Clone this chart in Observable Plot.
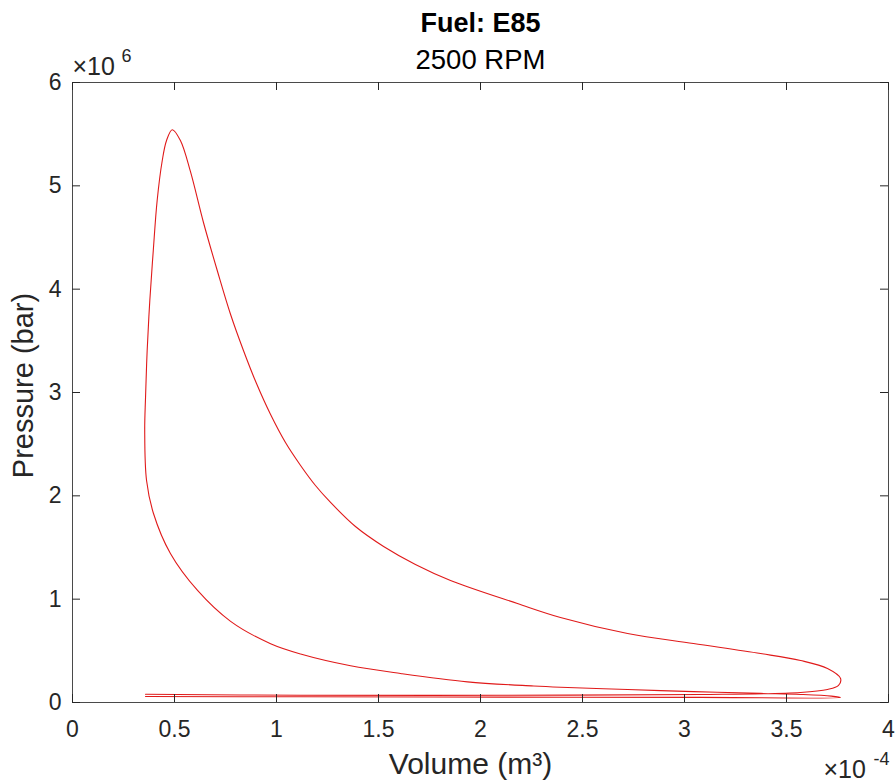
<!DOCTYPE html>
<html><head><meta charset="utf-8">
<script src="https://cdn.jsdelivr.net/npm/d3@7"></script>
<script src="https://cdn.jsdelivr.net/npm/@observablehq/plot@0.6"></script>
<style>body{margin:0;background:#fff}</style>
</head><body><div id="chart"></div>
<script>
// Volume in units of 1e-4 m³, pressure in units of 1e6
const volumeE4 = [
  0.358, 1.118, 2.098, 3.078, 3.765,
  3.72, 3.569, 3.373, 3.044, 2.721, 2.392, 2.260, 1.936, 1.608, 1.363, 1.118, 0.971, 0.775, 0.613, 0.480, 0.397, 0.363, 0.354, 0.358, 0.366, 0.379, 0.396, 0.415, 0.440, 0.461, 0.489,
  0.529, 0.578, 0.642, 0.711, 0.775, 0.838, 0.902, 0.971, 1.044, 1.118, 1.191, 1.265, 1.387, 1.525, 1.681, 1.853, 2.181, 2.392, 2.721, 3.044, 3.373, 3.569, 3.701, 3.765, 3.755, 3.701, 3.569,
  3.078, 2.098, 1.118, 0.358
];
const pressureE6 = [
  0.058, 0.055, 0.052, 0.050, 0.048,
  0.062, 0.078, 0.088, 0.105, 0.126, 0.148, 0.160, 0.200, 0.281, 0.356, 0.470, 0.569, 0.785, 1.084, 1.442, 1.829, 2.148, 2.632, 2.952, 3.407, 3.890, 4.374, 4.858, 5.245, 5.439, 5.543,
  5.439, 5.139, 4.645, 4.171, 3.755, 3.407, 3.087, 2.787, 2.516, 2.294, 2.100, 1.936, 1.703, 1.510, 1.336, 1.181, 0.958, 0.823, 0.668, 0.571, 0.474, 0.406, 0.329, 0.232, 0.165, 0.126, 0.097,
  0.077, 0.070, 0.070, 0.080
];
const xTicks = [0, 0.5, 1, 1.5, 2, 2.5, 3, 3.5, 4];
const yTicks = [0, 1, 2, 3, 4, 5, 6];
const xTickLabels = ["0", "0.5", "1", "1.5", "2", "2.5", "3", "3.5", "4"];
const yTickLabels = ["0", "1", "2", "3", "4", "5", "6"];
const titleText = "Fuel: E85";
const subtitleText = "2500 RPM";
const xLabelText = "Volume (m³)";
const yLabelText = "Pressure (bar)";

const data = volumeE4.map((v, i) => ({v, p: pressureE6[i]}));
const W = 896, H = 782, mL = 72, mR = 8, mT = 82, mB = 80;
const fh = H - mT - mB, fw = W - mL - mR;
const axisColor = "#262626";
const frameColor = "#4a4a4a";
const font = "'Liberation Sans', Arial, Helvetica, sans-serif";

const chart = Plot.plot({
  width: W, height: H,
  marginLeft: mL, marginRight: mR, marginTop: mT, marginBottom: mB,
  x: {domain: [0, 4]},
  y: {domain: [0, 6]},
  style: {fontFamily: font, background: "#fff", color: axisColor, overflow: "visible"},
  marks: [
    Plot.line(data, {x: "v", y: "p", stroke: "#e01a1a", strokeWidth: 1.1, curve: "catmull-rom"}),
    Plot.frame({stroke: frameColor, strokeWidth: 1}),
    Plot.tickX(xTicks, {x: d => d, insetTop: fh - 8, stroke: axisColor}),
    Plot.tickX(xTicks, {x: d => d, insetBottom: fh - 8, stroke: axisColor}),
    Plot.tickY(yTicks, {y: d => d, insetRight: fw - 8, stroke: axisColor}),
    Plot.tickY(yTicks, {y: d => d, insetLeft: fw - 8, stroke: axisColor}),
    Plot.axisX(xTicks, {tickSize: 0, tickPadding: 18, fontSize: 23, label: null, tickFormat: (d, i) => xTickLabels[i], fill: axisColor}),
    Plot.axisY(yTicks, {tickSize: 0, tickPadding: 11, fontSize: 23, label: null, tickFormat: (d, i) => yTickLabels[i], fill: axisColor}),
    Plot.text([titleText], {frameAnchor: "top", dy: -59, lineAnchor: "middle", textAnchor: "middle", fontWeight: "bold", fontSize: 27, fill: "#000"}),
    Plot.text([subtitleText], {frameAnchor: "top", dy: -22, lineAnchor: "middle", textAnchor: "middle", fontSize: 27.5, fill: "#000"}),
    Plot.text([xLabelText], {frameAnchor: "bottom", dy: 62, dx: -10, lineAnchor: "middle", textAnchor: "middle", fontSize: 30, fill: axisColor}),
    Plot.text([yLabelText], {frameAnchor: "left", dx: -49, dy: -7, rotate: -90, lineAnchor: "middle", textAnchor: "middle", fontSize: 29, fill: axisColor}),
    Plot.text(["×10"], {frameAnchor: "top-left", dx: 0, dy: -16, lineAnchor: "middle", textAnchor: "start", fontSize: 25, fill: axisColor}),
    Plot.text(["6"], {frameAnchor: "top-left", dx: 49, dy: -26, lineAnchor: "middle", textAnchor: "start", fontSize: 18, fill: axisColor}),
    Plot.text(["×10"], {frameAnchor: "bottom-right", dx: -65, dy: 67, lineAnchor: "middle", textAnchor: "start", fontSize: 25, fill: axisColor}),
    Plot.text(["-4"], {frameAnchor: "bottom-right", dx: 1, dy: 57, lineAnchor: "middle", textAnchor: "end", fontSize: 18, fill: axisColor})
  ]
});
document.getElementById("chart").appendChild(chart);
</script>
</body></html>
